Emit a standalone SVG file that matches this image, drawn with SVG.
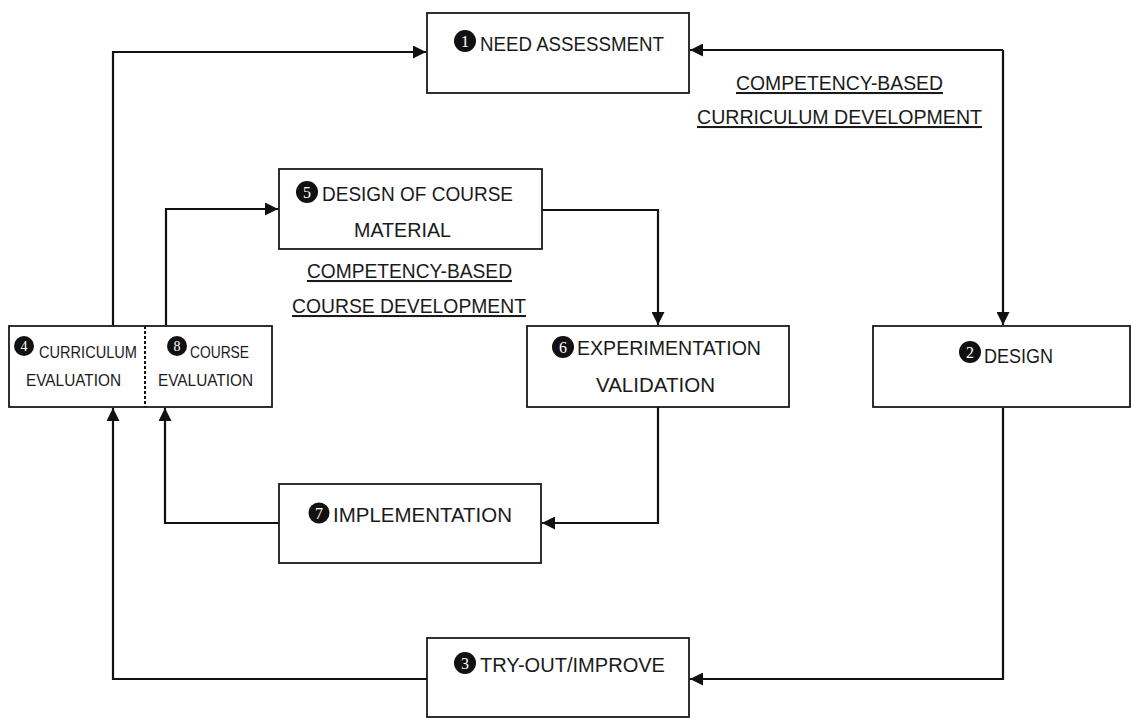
<svg xmlns="http://www.w3.org/2000/svg" width="1131" height="718" viewBox="0 0 1131 718">
<style>
.box{fill:#fff;stroke:#1a1a1a;stroke-width:1.8}
.t{font-family:"Liberation Sans",Arial,sans-serif;font-size:20.5px;fill:#1a1a1a}
.s{font-size:16.5px}
.u{text-decoration:underline}
.c{fill:none;stroke:#111;stroke-width:2.2}
.dot{fill:#111}
.d{font-family:"Liberation Serif","Times New Roman",serif;font-size:16px;fill:#fff;text-anchor:middle}
.ds{font-size:14px}
</style>
<defs>
<marker id="ah" viewBox="0 0 13 13" refX="13" refY="6.5" markerWidth="13" markerHeight="13" markerUnits="userSpaceOnUse" orient="auto">
<path d="M0,0 L13,6.5 L0,13 z" fill="#111"/>
</marker>
</defs>
<rect width="1131" height="718" fill="#fff"/>
<g id="connectors">
<path class="c" d="M1003,50 H690" marker-end="url(#ah)"/>
<path class="c" d="M1003,50 V325" marker-end="url(#ah)"/>
<path class="c" d="M1003,408 V679 H690" marker-end="url(#ah)"/>
<path class="c" d="M427,679 H113 V408" marker-end="url(#ah)"/>
<path class="c" d="M113,325 V52 H426" marker-end="url(#ah)"/>
<path class="c" d="M166,325 V209 H278" marker-end="url(#ah)"/>
<path class="c" d="M542,210 H658 V325" marker-end="url(#ah)"/>
<path class="c" d="M658,407 V523 H542" marker-end="url(#ah)"/>
<path class="c" d="M279,523 H165 V408" marker-end="url(#ah)"/>
</g>
<g id="node1">
<rect class="box" x="427" y="13" width="262" height="80"/>
<circle class="dot" cx="465" cy="41" r="11"/>
<text class="d" x="465" y="46.5">1</text>
<text class="t" x="480" y="51" textLength="184" lengthAdjust="spacingAndGlyphs">NEED ASSESSMENT</text>
</g>
<g id="label-curriculum">
<text class="t u" x="736" y="90" textLength="207" lengthAdjust="spacingAndGlyphs">COMPETENCY-BASED</text>
<text class="t u" x="697" y="124" textLength="285" lengthAdjust="spacingAndGlyphs">CURRICULUM DEVELOPMENT</text>
</g>
<g id="node2">
<rect class="box" x="873" y="326" width="257" height="81"/>
<circle class="dot" cx="970" cy="352" r="11"/>
<text class="d" x="970" y="357.5">2</text>
<text class="t" x="984" y="363" textLength="69" lengthAdjust="spacingAndGlyphs">DESIGN</text>
</g>
<g id="node3">
<rect class="box" x="427" y="638" width="262" height="79"/>
<circle class="dot" cx="465" cy="663" r="11"/>
<text class="d" x="465" y="668.5">3</text>
<text class="t" x="480" y="672" textLength="185" lengthAdjust="spacingAndGlyphs">TRY-OUT/IMPROVE</text>
</g>
<g id="node4-8">
<rect class="box" x="9" y="326" width="263" height="81"/>
<line x1="145" y1="326" x2="145" y2="407" stroke="#111" stroke-width="2" stroke-dasharray="3,2"/>
<circle class="dot" cx="24" cy="346" r="10"/>
<text class="d ds" x="24" y="351">4</text>
<text class="t s" x="39" y="358" textLength="98" lengthAdjust="spacingAndGlyphs">CURRICULUM</text>
<text class="t s" x="26" y="386" textLength="95" lengthAdjust="spacingAndGlyphs">EVALUATION</text>
<circle class="dot" cx="177" cy="346" r="10"/>
<text class="d ds" x="177" y="351">8</text>
<text class="t s" x="190" y="358" textLength="59" lengthAdjust="spacingAndGlyphs">COURSE</text>
<text class="t s" x="158" y="386" textLength="95" lengthAdjust="spacingAndGlyphs">EVALUATION</text>
</g>
<g id="node5">
<rect class="box" x="279" y="169" width="263" height="80"/>
<circle class="dot" cx="307" cy="192" r="11"/>
<text class="d" x="307" y="197.5">5</text>
<text class="t" x="322" y="201" textLength="191" lengthAdjust="spacingAndGlyphs">DESIGN OF COURSE</text>
<text class="t" x="354" y="237" textLength="97" lengthAdjust="spacingAndGlyphs">MATERIAL</text>
</g>
<g id="label-course">
<text class="t u" x="307" y="278" textLength="205" lengthAdjust="spacingAndGlyphs">COMPETENCY-BASED</text>
<text class="t u" x="292" y="313" textLength="234" lengthAdjust="spacingAndGlyphs">COURSE DEVELOPMENT</text>
</g>
<g id="node6">
<rect class="box" x="527" y="326" width="262" height="81"/>
<circle class="dot" cx="563" cy="347" r="11"/>
<text class="d" x="563" y="352.5">6</text>
<text class="t" x="577" y="355" textLength="184" lengthAdjust="spacingAndGlyphs">EXPERIMENTATION</text>
<text class="t" x="596" y="392" textLength="119" lengthAdjust="spacingAndGlyphs">VALIDATION</text>
</g>
<g id="node7">
<rect class="box" x="279" y="484" width="262" height="79"/>
<circle class="dot" cx="319" cy="513" r="10.5"/>
<text class="d" x="319" y="518.5">7</text>
<text class="t" x="333" y="522" textLength="179" lengthAdjust="spacingAndGlyphs">IMPLEMENTATION</text>
</g>
</svg>
